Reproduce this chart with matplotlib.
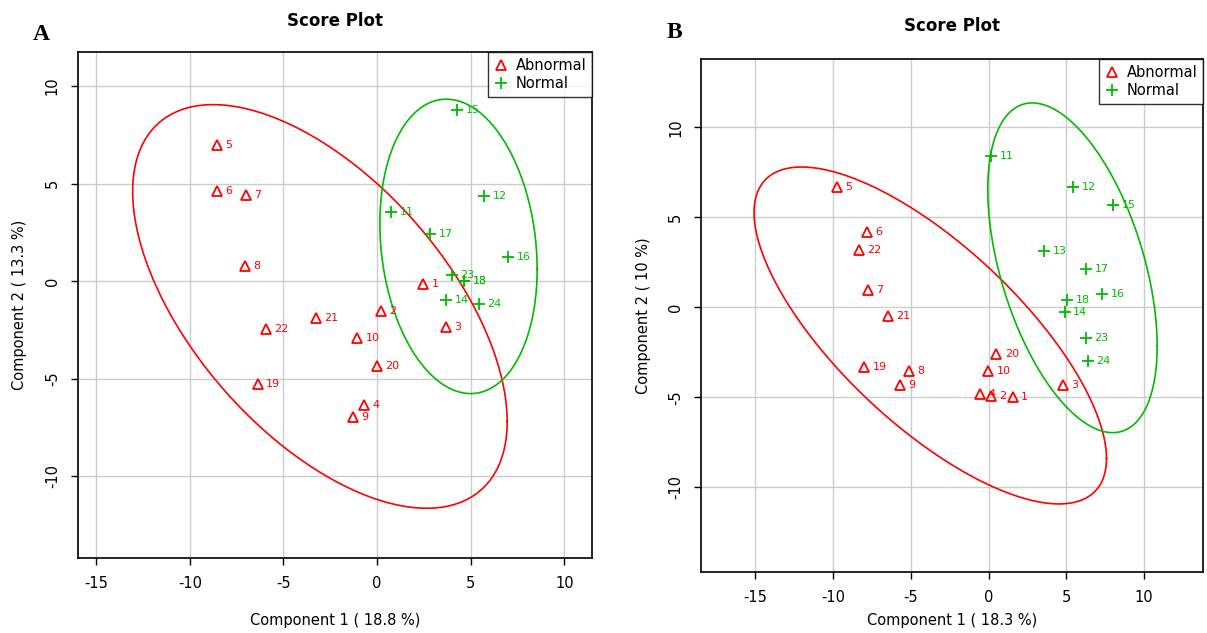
import numpy as np
import matplotlib
matplotlib.use("Agg")
import matplotlib.pyplot as plt

plt.rcParams['axes.unicode_minus'] = False

# ---- panel A scores ----
a_abn_id = [1, 2, 3, 4, 5, 6, 7, 8, 9, 10, 19, 20, 21, 22]
a_abn_x = [2.46, 0.21, 3.69, -0.69, -8.55, -8.55, -7.0, -7.05, -1.28, -1.07, -6.36, 0.0, -3.26, -5.93]
a_abn_y = [-0.15, -1.55, -2.37, -6.34, 6.96, 4.62, 4.43, 0.77, -6.96, -2.94, -5.30, -4.33, -1.90, -2.47]
a_nor_id = [11, 12, 13, 14, 15, 16, 17, 18, 23, 24]
a_nor_x = [0.75, 5.72, 4.65, 3.69, 4.27, 7.0, 2.83, 4.65, 4.0, 5.45]
a_nor_y = [3.56, 4.38, 0.0, -0.98, 8.76, 1.24, 2.42, 0.0, 0.33, -1.19]

# ---- panel B scores ----
b_abn_id = [1, 2, 3, 4, 5, 6, 7, 8, 9, 10, 19, 20, 21, 22]
b_abn_x = [1.56, 0.17, 4.76, -0.56, -9.73, -7.8, -7.78, -5.1, -5.72, -0.02, -7.99, 0.51, -6.5, -8.34]
b_abn_y = [-5.0, -4.94, -4.31, -4.79, 6.67, 4.19, 0.97, -3.55, -4.33, -3.54, -3.29, -2.57, -0.5, 3.17]
b_nor_id = [11, 12, 13, 14, 15, 16, 17, 18, 23, 24]
b_nor_x = [0.17, 5.45, 3.6, 4.89, 8.02, 7.33, 6.3, 5.06, 6.26, 6.41]
b_nor_y = [8.43, 6.69, 3.13, -0.24, 5.67, 0.74, 2.15, 0.43, -1.7, -3.0]

# ellipses: centre x, centre y, half width, half height, cross term
a_abn_ell = [-3.05, -1.3, 10.0, 10.35, -59.0]
a_nor_ell = [4.35, 1.78, 4.2, 7.55, -4.9]
b_abn_ell = [-3.75, -1.56, 11.34, 9.36, -77.5]
b_nor_ell = [5.4, 2.2, 5.45, 9.16, -23.7]

x_ticks = [-15, -10, -5, 0, 5, 10]
y_ticks = [-10, -5, 0, 5, 10]

RED = '#ff0000'
GREEN = '#00bb00'


def ellipse(ax, p, col):
    cx, cy, hw, hh, sxy = p
    m = np.array([[hw**2, sxy], [sxy, hh**2]])
    L = np.linalg.cholesky(m)
    t = np.linspace(0, 2*np.pi, 300)
    xy = L @ np.vstack([np.cos(t), np.sin(t)])
    ax.plot(xy[0] + cx, xy[1] + cy, color=col, lw=1.2, zorder=2)


def panel(ax, ax_ids, ax_x, ax_y, nx_ids, nx_x, nx_y, ell_a, ell_n, xl, yl, xlim, ylim, xl_y, tpad):
    ax.set_xlim(xlim)
    ax.set_ylim(ylim)
    ax.set_xticks(x_ticks)
    ax.set_yticks(y_ticks)
    ax.grid(True, color='#cccccc', lw=1.0)
    ax.set_axisbelow(True)
    ellipse(ax, ell_a, RED)
    ellipse(ax, ell_n, GREEN)
    ax.plot(ax_x, ax_y, ls='none', marker='^', mfc='none', mec=RED, ms=7, mew=1.3,
            label='Abnormal', zorder=3)
    ax.plot(nx_x, nx_y, ls='none', marker='+', color=GREEN, ms=9, mew=1.3,
            label='Normal', zorder=3)
    for i, x, y in zip(ax_ids, ax_x, ax_y):
        ax.annotate(str(i), (x, y), xytext=(6, 0), textcoords='offset points',
                    color=RED, fontsize=8, va='center', ha='left')
    for i, x, y in zip(nx_ids, nx_x, nx_y):
        ax.annotate(str(i), (x, y), xytext=(6, 0), textcoords='offset points',
                    color=GREEN, fontsize=8, va='center', ha='left')
    ax.set_title('Score Plot', fontsize=12, fontweight='bold', pad=tpad)
    ax.set_xlabel(xl, fontsize=10.5)
    ax.set_ylabel(yl, fontsize=10.5)
    ax.xaxis.set_label_coords(0.5, xl_y)
    ax.yaxis.set_label_coords(-0.114, 0.5)
    ax.xaxis.label.set_va('center')
    ax.yaxis.label.set_va('center')
    ax.tick_params(labelsize=10.5, length=5, width=1, pad=8)
    for lab in ax.get_yticklabels():
        lab.set_rotation(90)
        lab.set_va('center')
    for s in ax.spines.values():
        s.set_linewidth(1.2)
    leg = ax.legend(loc='upper right', fontsize=10.5, frameon=True, fancybox=False,
                    edgecolor='black', borderaxespad=0, handlelength=1.0,
                    handletextpad=0.5, borderpad=0.4, labelspacing=0.2)
    leg.get_frame().set_linewidth(1.0)


fig = plt.figure(figsize=(12.07, 6.33), dpi=100)
ax1 = fig.add_axes([0.0646, 0.1185, 0.4259, 0.7994])
ax2 = fig.add_axes([0.5808, 0.0964, 0.4159, 0.8104])

panel(ax1, a_abn_id, a_abn_x, a_abn_y, a_nor_id, a_nor_x, a_nor_y, a_abn_ell, a_nor_ell,
      'Component 1 ( 18.8 %)', 'Component 2 ( 13.3 %)', (-15.97, 11.48), (-14.2, 11.75), -0.1245, 19)
panel(ax2, b_abn_id, b_abn_x, b_abn_y, b_nor_id, b_nor_x, b_nor_y, b_abn_ell, b_nor_ell,
      'Component 1 ( 18.3 %)', 'Component 2 ( 10 %)', (-18.5, 13.8), (-14.7, 13.8), -0.0955, 20.5)

fig.text(0.027, 0.945, 'A', fontsize=17, fontweight='bold', family='Liberation Serif', va='center')
fig.text(0.5526, 0.948, 'B', fontsize=17, fontweight='bold', family='Liberation Serif', va='center')

fig.savefig('out.png', dpi=100)
